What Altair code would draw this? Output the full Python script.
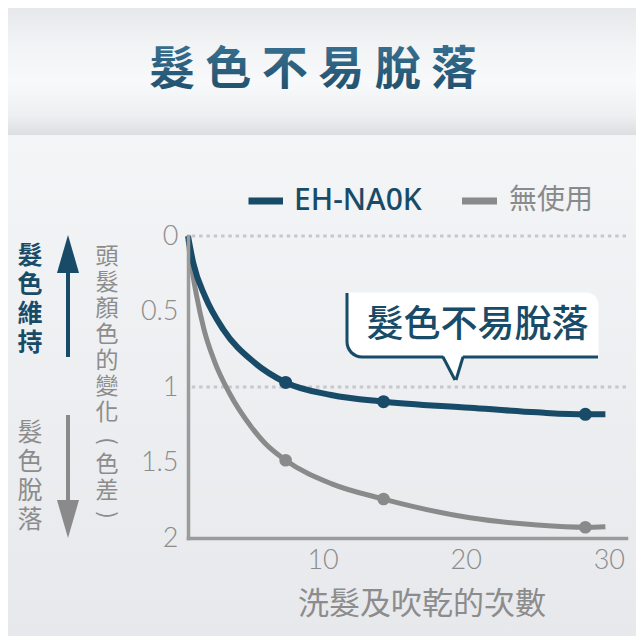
import altair as alt
import pandas as pd

# ---------------- data ----------------
series_names = ["EH-NA0K", "無使用"]
blue_x = [0.6, 0.97, 1.79, 3.07, 5.2, 7.42, 10.6, 14.26, 20.3, 25.0, 28.36, 29.76]
blue_y = [0.0, 0.18, 0.40, 0.62, 0.835, 0.97, 1.053, 1.097, 1.137, 1.168, 1.181, 1.18]
gray_x = [0.6, 0.81, 1.21, 1.72, 2.45, 3.49, 5.01, 5.98, 7.42, 10.6, 14.26, 20.3, 25.0, 28.36, 29.76]
gray_y = [0.026, 0.18, 0.40, 0.62, 0.83, 1.04, 1.263, 1.373, 1.485, 1.64, 1.742, 1.866, 1.914, 1.929, 1.925]
dot_x = [7.42, 14.26, 28.36]
blue_dot_y = [0.97, 1.097, 1.181]
gray_dot_y = [1.485, 1.742, 1.929]
y_ticks = [0, 0.5, 1, 1.5, 2]
x_ticks = [10, 20, 30]
grid_y = [0, 1]
title_text = "髮 色 不 易 脫 落"
x_title = "洗髮及吹乾的次數"
y_title_main = list("頭髮顏色的變化")
y_title_open = "("
y_title_inner = list("色差")
y_title_close = ")"
up_label = list("髮色維持")
down_label = list("髮色脫落")
callout_text = "髮色不易脫落"

# ---------------- style ----------------
BLUE = "#184b67"
GRAY = "#8a8a8a"
TXT_GRAY = "#8c8c8c"
CJK = "Noto Sans CJK TC"
NUM = "Lato"
W, H = 438, 302

blue_df = pd.DataFrame({"x": blue_x, "y": blue_y, "s": series_names[0]})
gray_df = pd.DataFrame({"x": gray_x, "y": gray_y, "s": series_names[1]})
bdot_df = pd.DataFrame({"x": dot_x, "y": blue_dot_y})
gdot_df = pd.DataFrame({"x": dot_x, "y": gray_dot_y})
grid_df = pd.DataFrame({"y": grid_y})
one = pd.DataFrame({"k": [0]})

xs = alt.Scale(domain=[0.6, 31.2], nice=False, zero=False)
ys = alt.Scale(domain=[0, 2], reverse=True, nice=False, zero=False)
common_axis = dict(domainColor="#9b9b9b", domainWidth=3.5, domainCap="square",
                   ticks=False, tickSize=0, grid=False, labelFont=NUM,
                   labelFontSize=27, labelFontWeight=300, labelColor=TXT_GRAY,
                   title=None, zindex=1)
X = alt.X("x:Q", scale=xs, axis=alt.Axis(values=x_ticks, format="d",
                                          labelPadding=9, **common_axis))
Y = alt.Y("y:Q", scale=ys, axis=alt.Axis(values=y_ticks, format="~g",
                                          labelPadding=10, **common_axis))


def grad(stops):
    return alt.LinearGradient(
        gradient="linear", x1=0, x2=0, y1=0, y2=1,
        stops=[alt.GradientStop(color=c, offset=o) for o, c in stops])


def box(x, x2, y, y2, color, **kw):
    return alt.Chart(one).mark_rect(color=color, **kw).encode(
        x=alt.value(x), x2=alt.value(x2), y=alt.value(y), y2=alt.value(y2))


def txt(text, x, y, size, color, weight="normal", font=CJK, align="center",
        baseline="middle", **kw):
    return alt.Chart(one).mark_text(
        font=font, fontSize=size, fontWeight=weight, color=color, align=align,
        baseline=baseline, **kw).encode(
        x=alt.value(x), y=alt.value(y), text=alt.value(text))


def rule(x, y, color, width, x2=None, y2=None):
    enc = dict(x=alt.value(x), y=alt.value(y))
    if x2 is not None:
        enc["x2"] = alt.value(x2)
    if y2 is not None:
        enc["y2"] = alt.value(y2)
    return alt.Chart(one).mark_rule(color=color, strokeWidth=width).encode(**enc)


def shape(path, x, y, size, color):
    return alt.Chart(one).mark_point(shape=path, filled=True, size=size,
                                     color=color, opacity=1, strokeWidth=0).encode(
        x=alt.value(x), y=alt.value(y))


layers = []
# backgrounds
layers.append(box(-200, 470, -101, 420, grad([(0, "#f3f5f7"), (1, "#e6e8eb")])))
layers.append(box(-200, 470, -240, -101, grad([
    (0, "#e2e4e7"), (0.35, "#f2f3f5"), (0.62, "#f8f9fa"),
    (0.86, "#eeeff1"), (1, "#dcdee1")])))
# title
layers.append(alt.Chart(one).mark_text(
    font=CJK, fontSize=46, fontWeight="bold", align="center", baseline="middle",
    fill=alt.LinearGradient(gradient="linear", x1=0, x2=0, y1=0, y2=1,
                            stops=[alt.GradientStop(color="#3f789a", offset=0),
                                   alt.GradientStop(color="#1d4d69", offset=1)])
).encode(x=alt.value(125), y=alt.value(-166), text=alt.value(title_text)))
# legend
layers.append(rule(60.5, -35, BLUE, 7, x2=95))
layers.append(txt(series_names[0], 106, -35, 30, BLUE, weight=500,
                  font="Noto Sans", align="left"))
layers.append(rule(274, -35, GRAY, 7, x2=309))
layers.append(txt(series_names[1], 321, -35, 28, GRAY, align="left"))
# side labels and arrows (first line centred at y, further lines below)
layers.append(txt(up_label, -158, 20, 25, BLUE, weight="bold", lineHeight=29))
layers.append(txt(down_label, -158, 197, 25, TXT_GRAY, lineHeight=29))
layers.append(rule(-120, 30, BLUE, 4, y2=121))
layers.append(shape("M0,-1L0.58,1L-0.58,1Z", -120, 18, 1444, BLUE))
layers.append(rule(-120, 179, GRAY, 4, y2=270))
layers.append(shape("M0,1L0.58,-1L-0.58,-1Z", -120, 283, 1444, GRAY))
# vertical y-axis title
layers.append(txt(y_title_main, -81, 21, 23, TXT_GRAY, lineHeight=26))
layers.append(txt(y_title_open, -81, 205, 22, TXT_GRAY, angle=90))
layers.append(txt(y_title_inner, -81, 229, 23, TXT_GRAY, lineHeight=26))
layers.append(txt(y_title_close, -81, 279, 22, TXT_GRAY, angle=90))
layers.append(txt(x_title, 234, 369, 31, TXT_GRAY))
# grid
layers.append(alt.Chart(grid_df).mark_rule(
    color="#c6c8cb", strokeWidth=3, strokeDash=[3.5, 3.8]).encode(y=Y))
# data
layers.append(alt.Chart(gray_df).mark_line(
    interpolate="monotone", strokeWidth=5, color=GRAY).encode(x=X, y=Y))
layers.append(alt.Chart(blue_df).mark_line(
    interpolate="monotone", strokeWidth=6, color=BLUE).encode(x=X, y=Y))
layers.append(alt.Chart(gdot_df).mark_circle(size=160, color=GRAY, opacity=1)
              .encode(x=X, y=Y))
layers.append(alt.Chart(bdot_df).mark_circle(size=170, color=BLUE, opacity=1)
              .encode(x=X, y=Y))
# callout bubble
layers.append(box(157.5, 410, 57, 122.5, BLUE, cornerRadiusTopRight=12,
                  cornerRadiusBottomLeft=16.5))
layers.append(box(160.5, 410.5, 56.5, 119.5, "#ffffff", cornerRadiusTopRight=12,
                  cornerRadiusBottomLeft=14))
layers.append(shape("M-0.8,-1L0.8,-1L0.16,1Z", 265, 131.5, 625, "#ffffff"))
layers.append(rule(255, 121, BLUE, 3, x2=267, y2=144))
layers.append(rule(275, 121, BLUE, 3, x2=268, y2=144))
layers.append(txt(callout_text, 289.5, 90, 37, BLUE, weight=500))

chart = alt.layer(*layers).properties(
    width=W, height=H,
    padding={"left": 180, "top": 228, "right": 10, "bottom": 98},
    autosize=alt.AutoSizeParams(type="none"),
    background="#eef0f2",
).configure_view(stroke=None)

chart.save("out.html", embed_options={"renderer": "svg", "actions": False})
